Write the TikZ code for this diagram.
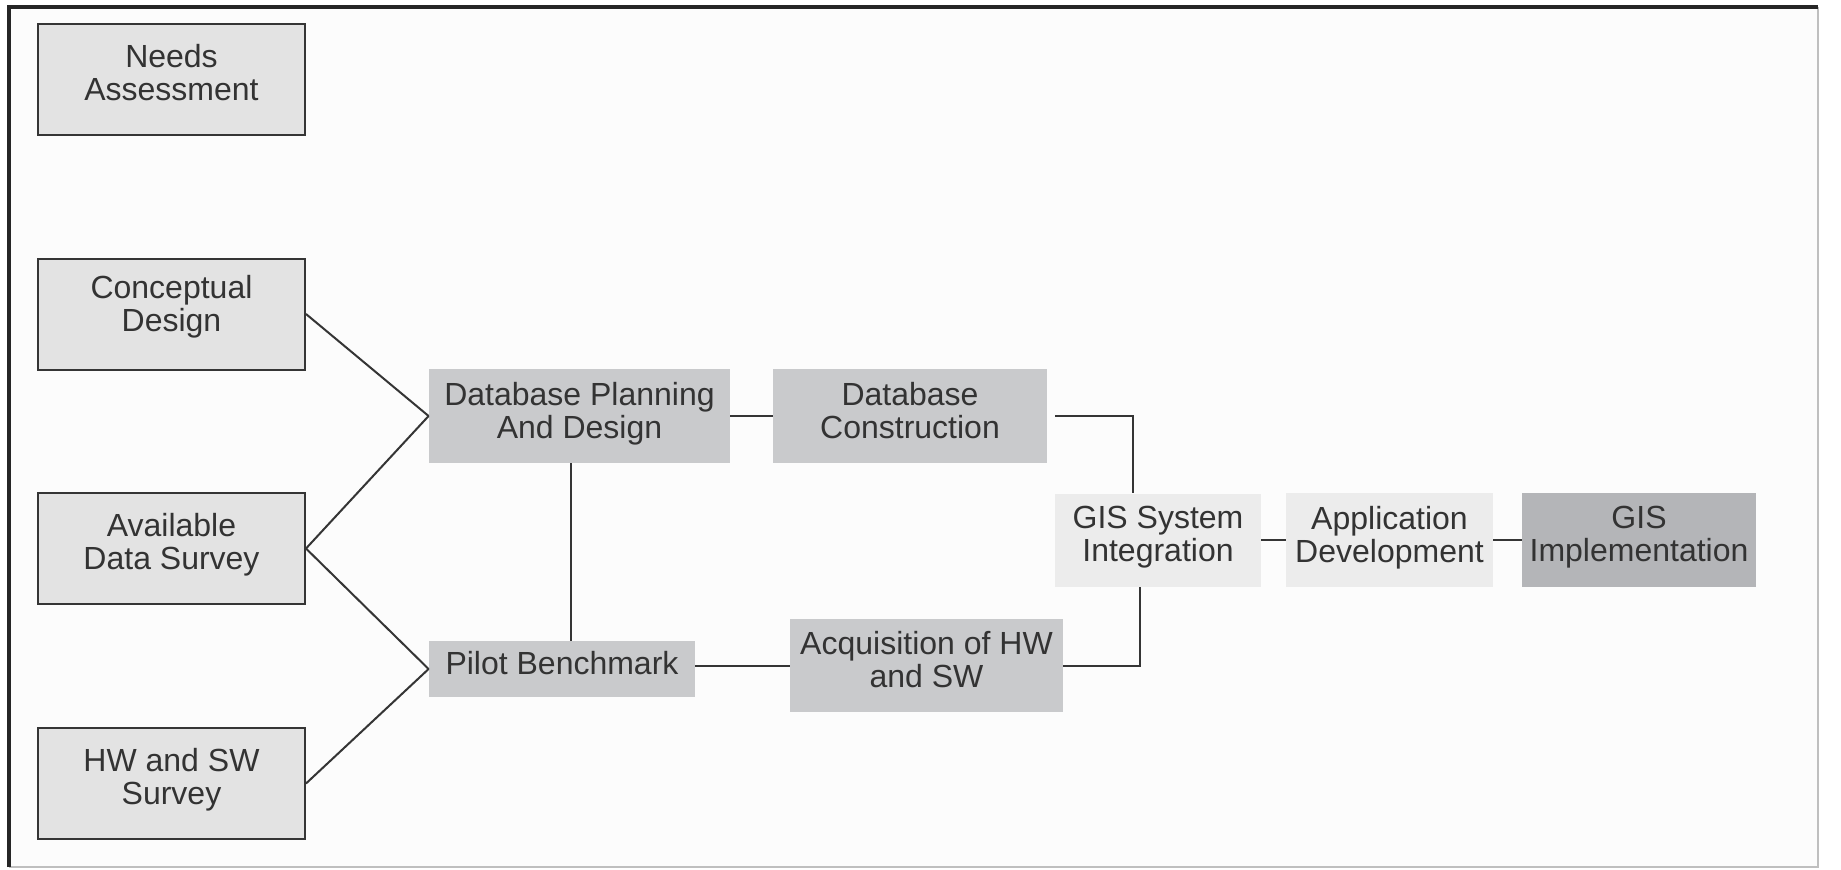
\documentclass[tikz,border=0pt]{standalone}
\usepackage{fontspec}
\setmainfont{Liberation Sans}
\usetikzlibrary{calc}

\definecolor{ink}{HTML}{333333}
\definecolor{wire}{HTML}{353535}
\definecolor{paper}{HTML}{FCFCFC}
\definecolor{boxlight}{HTML}{E3E3E3}
\definecolor{boxmid}{HTML}{C9CACC}
\definecolor{boxpale}{HTML}{ECECEC}
\definecolor{boxdark}{HTML}{B4B5B8}

\tikzset{
  stage/.style={rectangle, inner sep=0pt, align=center, text=ink,
    font=\fontsize{16}{16.5}\selectfont, text depth=6pt},
  outlined/.style={stage, fill=boxlight, draw=wire, line width=1pt,
    minimum width=133.5pt, minimum height=55.5pt, text depth=7.5pt},
  midbox/.style={stage, fill=boxmid},
  palebox/.style={stage, fill=boxpale},
  darkbox/.style={stage, fill=boxdark},
  link/.style={draw=wire, line width=1pt}
}

\begin{document}
\begin{tikzpicture}[x=0.5pt, y=-0.5pt]
\useasboundingbox (0,0) rectangle (1841,869);
\fill[white] (0,0) rectangle (1841,869);
\fill[paper] (9,7) rectangle (1818,867);

% frame
\draw[line width=1pt, draw=black!25] (1818,7) -- (1818,867) -- (9,867);
\draw[line width=1.6pt, draw=black!85] (9,867) -- (9,7) -- (1818,7);

% left column
\node[outlined] (needs) at (171.5,79.5) {Needs\\Assessment};
\node[outlined, text depth=11pt] (concept) at (171.5,314) {Conceptual\\Design};
\node[outlined] (survey) at (171.5,548.5) {Available\\Data Survey};
\node[outlined] (hwsw) at (171.5,783.5) {HW and SW\\Survey};

% middle
\node[midbox, minimum width=150.5pt, minimum height=47pt] (dbplan) at (579.5,416) {Database Planning\\And Design};
\node[midbox, minimum width=137pt, minimum height=47pt] (dbcons) at (910,416) {Database\\Construction};
\node[midbox, minimum width=133pt, minimum height=28pt] (pilot) at (562,669) {Pilot Benchmark};
\node[midbox, minimum width=136.5pt, minimum height=46.5pt] (acq) at (926.5,665.5) {Acquisition of HW\\and SW};

% right row
\node[palebox, minimum width=103pt, minimum height=46.5pt] (integ) at (1158,540) {GIS System\\Integration};
\node[palebox, minimum width=103.5pt, minimum height=47pt] (appdev) at (1389.5,540) {Application\\Development};
\node[darkbox, minimum width=117pt, minimum height=47pt] (impl) at (1639,540) {GIS\\Implementation};

% connectors
\draw[link] (concept.east) -- (dbplan.west);
\draw[link] (survey.east) -- (dbplan.west);
\draw[link] (survey.east) -- (pilot.west);
\draw[link] (hwsw.east) -- (pilot.west);
\draw[link] (dbplan.east) -- (dbcons.west);
\draw[link] ($(dbplan.south)+(-9,0)$) coordinate (v) -- (v |- pilot.north);
\draw[link] (acq.west -| pilot.east) -- (acq.west);
\draw[link] ($(dbcons.east)+(8,0)$) -| ($(integ.north)+(-25,0)$);
\draw[link] (acq.east) -| ($(integ.south)+(-18,0)$);
\draw[link] (integ.east) -- (appdev.west);
\draw[link] (appdev.east) -- (impl.west);
\end{tikzpicture}
\end{document}
